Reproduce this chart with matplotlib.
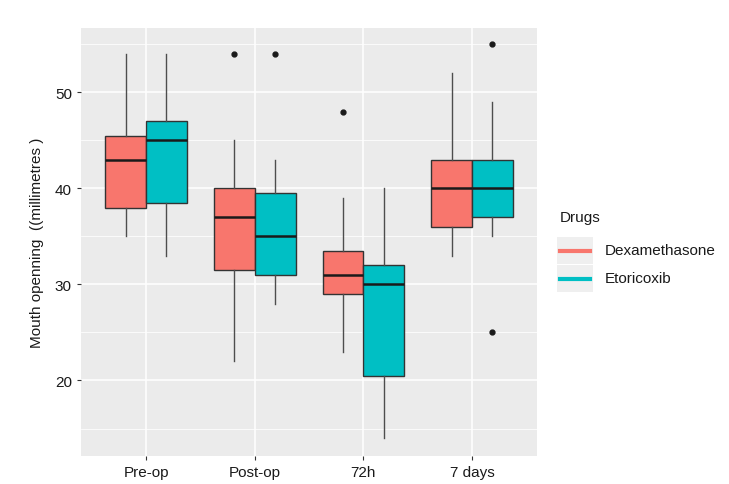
import matplotlib.pyplot as plt
from matplotlib.lines import Line2D
from matplotlib.patches import Rectangle

plt.rcParams['font.family'] = ['Liberation Sans', 'DejaVu Sans']

# time points and drug groups
categories = ['Pre-op', 'Post-op', '72h', '7 days']
drugs = ['Dexamethasone', 'Etoricoxib']
colors = ['#F8766D', '#00BFC4']

# box statistics (one value per time point)
dex_whislo = [35, 22, 23, 33]
dex_q1 = [38, 31.5, 29, 36]
dex_med = [43, 37, 31, 40]
dex_q3 = [45.5, 40, 33.5, 43]
dex_whishi = [54, 45, 39, 52]
dex_fliers = [[], [54], [48], []]

eto_whislo = [33, 28, 14, 35]
eto_q1 = [38.5, 31, 20.5, 37]
eto_med = [45, 35, 30, 40]
eto_q3 = [47, 39.5, 32, 43]
eto_whishi = [54, 43, 40, 49]
eto_fliers = [[], [54], [], [55, 25]]


def make_stats(lo, q1, med, q3, hi, fl):
    return [dict(whislo=a, q1=b, med=c, q3=d, whishi=e, fliers=f)
            for a, b, c, d, e, f in zip(lo, q1, med, q3, hi, fl)]


groups = [
    make_stats(dex_whislo, dex_q1, dex_med, dex_q3, dex_whishi, dex_fliers),
    make_stats(eto_whislo, eto_q1, eto_med, eto_q3, eto_whishi, eto_fliers),
]

fig = plt.figure(figsize=(7.29, 4.85), dpi=100)
ax = fig.add_axes([0.111, 0.058, 0.626, 0.882])
ax.set_facecolor('#EBEBEB')

width = 0.375
for i, stats in enumerate(groups):
    pos = [k + 1 + (i - 0.5) * width for k in range(len(categories))]
    ax.bxp(stats, positions=pos, widths=width, patch_artist=True,
           showcaps=False, manage_ticks=False,
           boxprops=dict(facecolor=colors[i], edgecolor='#333333', linewidth=1),
           medianprops=dict(color='#1a1a1a', linewidth=1.8),
           whiskerprops=dict(color='#4d4d4d', linewidth=1),
           flierprops=dict(marker='o', markerfacecolor='#1a1a1a',
                           markeredgecolor='#1a1a1a', markersize=3.5))

ax.set_xlim(0.4, 4.6)
ax.set_ylim(12.15, 56.7)
ax.set_xticks(range(1, len(categories) + 1))
ax.set_xticklabels(categories)
ax.set_yticks([20, 30, 40, 50])
ax.set_yticks([15, 25, 35, 45, 55], minor=True)
ax.grid(which='major', color='white', linewidth=1.1)
ax.grid(which='minor', axis='y', color='white', linewidth=0.55)
ax.set_axisbelow(True)
for s in ax.spines.values():
    s.set_visible(False)
ax.tick_params(which='major', length=3, color='#333333', labelsize=11,
               labelcolor='#1a1a1a')
ax.tick_params(which='minor', length=0)
ax.set_ylabel('Mouth openning  ((millimetres )', fontsize=11, color='#1a1a1a',
              labelpad=8)

# legend drawn like ggplot keys
fig.text(560 / 729, 1 - 218 / 485, 'Drugs', fontsize=11, va='center',
         color='#1a1a1a')
for i, d in enumerate(drugs):
    y0 = 1 - (265 + i * 28) / 485
    fig.patches.append(Rectangle((557 / 729, y0), 36 / 729, 27 / 485,
                                 transform=fig.transFigure,
                                 facecolor='#EFEFEF', edgecolor='none'))
    yc = y0 + 13.5 / 485
    fig.lines.append(Line2D([560 / 729, 590 / 729], [yc, yc],
                            transform=fig.transFigure, color=colors[i],
                            linewidth=3))
    fig.text(605 / 729, yc, d, fontsize=11, va='center', color='#1a1a1a')

fig.savefig('out.png', dpi=100)
